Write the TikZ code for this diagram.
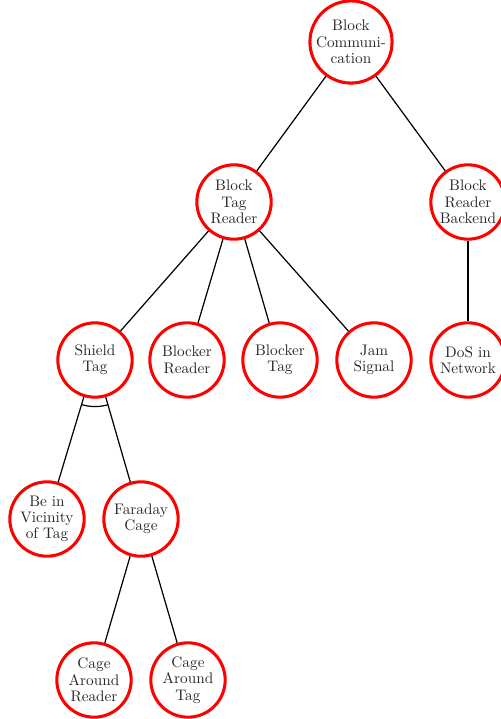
\documentclass[tikz,border=0pt]{standalone}
\usetikzlibrary{calc}
\begin{document}
\begin{tikzpicture}[x=0.655pt, y=0.655pt,
  goal/.style={circle, draw=red, line width=2pt, minimum size=48.7pt, inner sep=0pt,
    align=center, font=\fontsize{10}{10.7}\selectfont, text=black!85},
  link/.style={draw=black, line width=0.8pt}]
\useasboundingbox (0,0) rectangle (500,-719);
% root and first level
\node[goal] (bc)  at (351,-42)  {Block\\Commun\-i-\\cation};
\node[goal] (btr) at (234,-202) {Block\\Tag\\Reader};
\node[goal] (brb) at (468,-202) {Block\\Reader\\Backend};
% second level
\node[goal] (st)  at (95,-360)  {Shield\\Tag};
\node[goal] (br)  at (187,-360) {Blocker\\Reader};
\node[goal] (bt)  at (280,-360) {Blocker\\Tag};
\node[goal] (js)  at (374,-360) {Jam\\Signal};
\node[goal] (dos) at (468,-360) {DoS in\\Network};
% third level
\node[goal] (bv)  at (47,-519)  {Be in\\Vicinity\\of Tag};
\node[goal] (fc)  at (141,-519) {Faraday\\Cage};
% fourth level
\node[goal] (car) at (94,-680)  {Cage\\Around\\Reader};
\node[goal] (cat) at (188,-680) {Cage\\Around\\Tag};
% connectors
\draw[link] (bc) -- (btr);
\draw[link] (bc) -- (brb);
\draw[link] (btr) -- (st);
\draw[link] (btr) -- (br);
\draw[link] (btr) -- (bt);
\draw[link] (btr) -- (js);
\draw[link] (brb) -- (dos);
\draw[link] (st) -- (bv);
\draw[link] (st) -- (fc);
\draw[link] (fc) -- (car);
\draw[link] (fc) -- (cat);
% AND arc joining the two refinements of the shield node
\draw[link] let \p1=($(bv)-(st)$), \p2=($(fc)-(st)$),
  \n1={atan2(\y1,\x1)}, \n2={atan2(\y2,\x2)} in
  ($(st)+(\n1:30.5pt)$) arc[start angle=\n1, end angle=\n2, radius=30.5pt];
\end{tikzpicture}
\end{document}
